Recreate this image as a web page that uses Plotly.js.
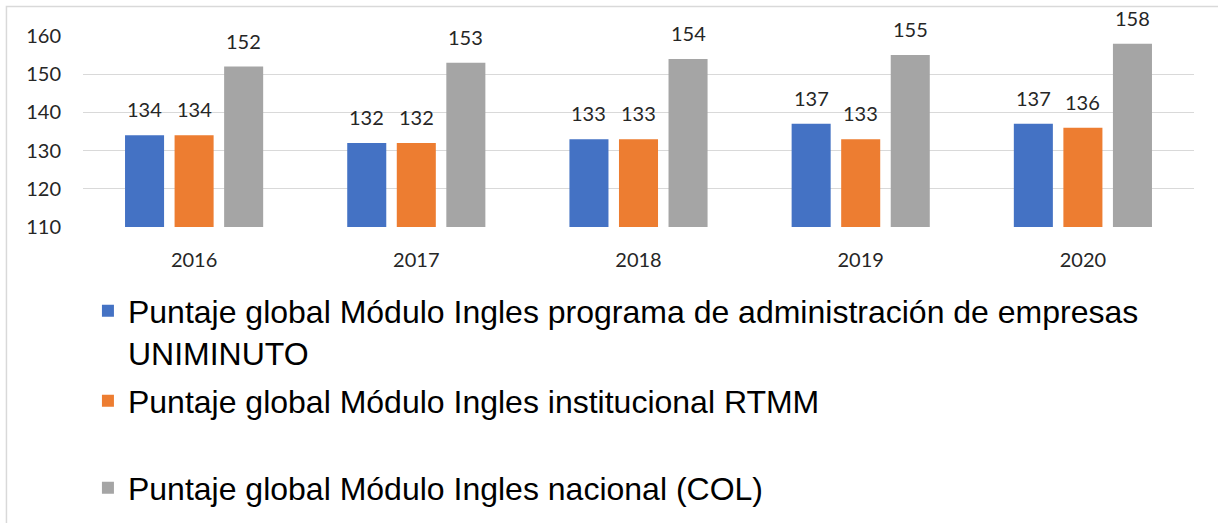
<!DOCTYPE html>
<html>
<head>
<meta charset="utf-8">
<script src="https://cdn.plot.ly/plotly-3.0.1.min.js"></script>
<style>html,body{margin:0;padding:0;background:#fff;}#chart{width:1218px;height:523px;}</style>
</head>
<body>
<div id="chart"></div>
<script>
var years = ['2016', '2017', '2018', '2019', '2020'];
var programa = [134, 132, 133, 137, 137];
var institucional = [134, 132, 133, 133, 136];
var nacional = [152, 153, 154, 155, 158];
var seriesNames = [
  'Puntaje global Módulo Ingles programa de administración de empresas<br>UNIMINUTO',
  'Puntaje global Módulo Ingles institucional RTMM',
  'Puntaje global Módulo Ingles nacional (COL)'
];
var colors = ['#4472C4', '#ED7D31', '#A5A5A5'];
var allSeries = [programa, institucional, nacional];
var legendIds = ['legend', 'legend2', 'legend3'];

var bargap = 0.331;
var traces = allSeries.map(function (vals, k) {
  return {
    type: 'bar',
    name: seriesNames[k],
    x: years,
    y: vals,
    marker: { color: colors[k] },
    legend: legendIds[k],
    hoverinfo: 'x+y'
  };
});

var slot = (1 - bargap) / 3;
var annotations = [];
allSeries.forEach(function (vals, k) {
  vals.forEach(function (v, i) {
    annotations.push({
      xref: 'x', yref: 'y',
      x: i + (k - 1) * slot, y: v,
      text: String(v),
      showarrow: false,
      xanchor: 'center', yanchor: 'bottom',
      yshift: 12,
      font: { family: 'Lato, sans-serif', size: 20, color: '#262626' }
    });
  });
});

var legFont = { family: '"Liberation Sans", Arial, sans-serif', size: 32, color: '#000' };
function leg(y) {
  return {
    xref: 'container', yref: 'container',
    x: 0.0722, y: y, xanchor: 'left', yanchor: 'middle',
    font: legFont, valign: 'top', bgcolor: 'rgba(0,0,0,0)',
    itemclick: false, itemdoubleclick: false
  };
}

var layout = {
  width: 1218, height: 523,
  margin: { l: 83, r: 24, t: 36, b: 296, autoexpand: false },
  paper_bgcolor: '#fff', plot_bgcolor: '#fff',
  barmode: 'group', bargap: bargap, bargroupgap: 0.212,
  xaxis: {
    type: 'category', automargin: false,
    showgrid: false, zeroline: false, showline: false,
    ticks: '', ticklabelstandoff: 19,
    tickfont: { family: 'Lato, sans-serif', size: 20, color: '#262626' }
  },
  yaxis: {
    range: [110, 160], dtick: 10, tick0: 110, automargin: false,
    showgrid: true, gridcolor: '#d9d9d9', gridwidth: 1.3,
    zeroline: false, showline: false, ticks: '', ticklabelstandoff: 21,
    tickfont: { family: 'Lato, sans-serif', size: 20, color: '#262626' }
  },
  showlegend: true,
  legend: leg(1 - 332 / 523),
  legend2: leg(1 - 401 / 523),
  legend3: leg(1 - 488 / 523),
  annotations: annotations,
  shapes: [{
    type: 'rect', xref: 'paper', yref: 'paper',
    x0: -0.0689, x1: 1.04, y0: -1.7, y1: 1.1545,
    line: { color: '#d9d9d9', width: 1.5 }, fillcolor: 'rgba(0,0,0,0)', layer: 'below'
  }]
};

Plotly.newPlot('chart', traces, layout, { staticPlot: true, displayModeBar: false });
</script>
</body>
</html>
